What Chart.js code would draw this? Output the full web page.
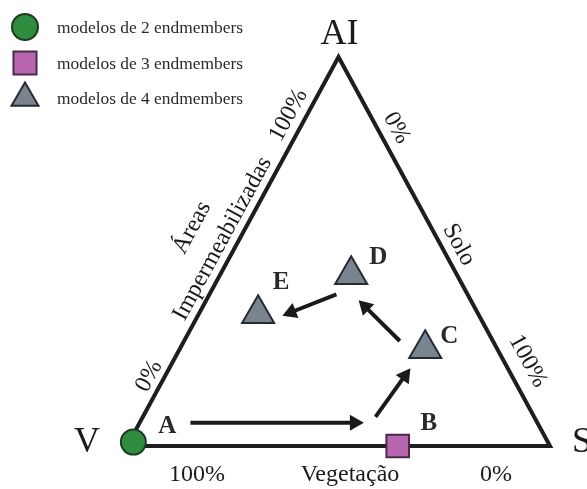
<!DOCTYPE html>
<html><head><meta charset="utf-8">
<script src="https://cdn.jsdelivr.net/npm/chart.js@4.4.0/dist/chart.umd.min.js"></script>
<style>html,body{margin:0;padding:0;background:#fff;overflow:hidden}canvas{display:block}</style>
</head><body>
<canvas id="c" width="587" height="489"></canvas>
<script>
// Ternary composition (fractions) of each model
const pointNames = ['A', 'B', 'C', 'D', 'E'];
const pointGroup = [2, 3, 4, 4, 4];           // number of endmembers
const vegetacao  = [0.98, 0.36, 0.17, 0.25, 0.52];
const solo       = [0.01, 0.64, 0.58, 0.31, 0.14];
const impermeab  = [0.01, 0.00, 0.25, 0.44, 0.34];

// arrows (from -> to), ternary fractions (solo, áreas impermeabilizadas)
const arrowFromSolo = [0.12, 0.55, 0.51, 0.30];
const arrowFromAI   = [0.06, 0.075, 0.27, 0.39];
const arrowToSolo   = [0.53, 0.57, 0.36, 0.20];
const arrowToAI     = [0.06, 0.20, 0.375, 0.335];

// triangle frame: V -> S -> AI -> V
const frameSolo = [0, 1, 0, 0];
const frameAI   = [0, 0, 1, 0];

const vertexLabels = ['V', 'S', 'AI'];
const legendLabels = ['modelos de 2 endmembers', 'modelos de 3 endmembers', 'modelos de 4 endmembers'];
const legendGroups = [2, 3, 4];
const axisTitleBottom = 'Vegetação';
const axisTitleRight = 'Solo';
const axisTitleLeft = ['Áreas', 'Impermeabilizadas'];
const tickLabels = ['0%', '100%'];

// ternary -> cartesian
const tx = (s, a) => s + a / 2;
const ty = (s, a) => a;

const groupStyle = {
  2: { pointStyle: 'circle',   radius: 12.5, bg: '#2f8b3d', border: '#1d3a22' },
  3: { pointStyle: 'rect',     radius: 16,   bg: '#b966b1', border: '#4b2a49' },
  4: { pointStyle: 'triangle', radius: 18.5, bg: '#7a8490', border: '#262b31' }
};

function groupData(g) {
  const out = [];
  pointNames.forEach((n, i) => {
    if (pointGroup[i] === g) out.push({ x: tx(solo[i], impermeab[i]), y: ty(solo[i], impermeab[i]), name: n });
  });
  return out;
}

const markerDatasets = legendGroups.map(g => ({
  type: 'scatter',
  label: legendLabels[legendGroups.indexOf(g)],
  data: groupData(g),
  pointStyle: groupStyle[g].pointStyle,
  pointRadius: groupStyle[g].radius,
  pointHoverRadius: groupStyle[g].radius,
  backgroundColor: groupStyle[g].bg,
  borderColor: groupStyle[g].border,
  pointBorderWidth: 2,
  clip: false,
  order: 0
}));

const frameDataset = {
  type: 'line',
  data: frameSolo.map((s, i) => ({ x: tx(s, frameAI[i]), y: ty(s, frameAI[i]) })),
  borderColor: '#1e1e1e',
  borderWidth: 4,
  borderJoinStyle: 'miter',
  borderCapStyle: 'square',
  pointRadius: 0,
  tension: 0,
  fill: false,
  clip: false,
  order: 5
};

const labelOffsets = { A: [34, -17], B: [31, -23], C: [24, -13], D: [27, -18], E: [23, -32] };
const SERIF = '"Liberation Serif", "DejaVu Serif", serif';

function drawMarker(ctx, g, x, y, r) {
  const st = groupStyle[g];
  ctx.save();
  ctx.fillStyle = st.bg; ctx.strokeStyle = st.border; ctx.lineWidth = 2;
  ctx.beginPath();
  if (st.pointStyle === 'circle') {
    ctx.arc(x, y, r, 0, Math.PI * 2);
  } else if (st.pointStyle === 'rect') {
    const h = r * Math.SQRT1_2;
    ctx.rect(x - h, y - h, 2 * h, 2 * h);
  } else {
    const t = 2 * Math.PI / 3;
    for (let k = 0; k < 3; k++) {
      const a = k * t;
      const px = x + Math.sin(a) * r, py = y - Math.cos(a) * r;
      k ? ctx.lineTo(px, py) : ctx.moveTo(px, py);
    }
    ctx.closePath();
  }
  ctx.fill(); ctx.stroke();
  ctx.restore();
}

function edgeText(ctx, p0, p1, t, perp, text, font) {
  const dx = p1.x - p0.x, dy = p1.y - p0.y;
  const len = Math.hypot(dx, dy);
  const ux = dx / len, uy = dy / len;
  const ang = Math.atan2(dy, dx);
  const nx = Math.sin(ang), ny = -Math.cos(ang);
  const cx = p0.x + ux * t * len + nx * perp;
  const cy = p0.y + uy * t * len + ny * perp;
  ctx.save();
  ctx.translate(cx, cy);
  ctx.rotate(ang);
  ctx.font = font;
  ctx.fillStyle = '#1a1a1a';
  ctx.textAlign = 'center';
  ctx.textBaseline = 'middle';
  ctx.fillText(text, 0, 0);
  ctx.restore();
}

const ternaryPlugin = {
  id: 'ternary',
  beforeDatasetsDraw(chart) {
    const { ctx, scales: { x, y } } = chart;
    ctx.save();
    ctx.strokeStyle = '#1a1a1a';
    ctx.fillStyle = '#1a1a1a';
    ctx.lineWidth = 4;
    for (let i = 0; i < arrowFromSolo.length; i++) {
      const x0 = x.getPixelForValue(tx(arrowFromSolo[i], arrowFromAI[i]));
      const y0 = y.getPixelForValue(ty(arrowFromSolo[i], arrowFromAI[i]));
      const x1 = x.getPixelForValue(tx(arrowToSolo[i], arrowToAI[i]));
      const y1 = y.getPixelForValue(ty(arrowToSolo[i], arrowToAI[i]));
      const L = Math.hypot(x1 - x0, y1 - y0);
      const ux = (x1 - x0) / L, uy = (y1 - y0) / L;
      const hl = 14, hw = 8;
      ctx.beginPath();
      ctx.moveTo(x0, y0);
      ctx.lineTo(x1 - ux * (hl - 2), y1 - uy * (hl - 2));
      ctx.stroke();
      ctx.beginPath();
      ctx.moveTo(x1, y1);
      ctx.lineTo(x1 - ux * hl - uy * hw, y1 - uy * hl + ux * hw);
      ctx.lineTo(x1 - ux * hl + uy * hw, y1 - uy * hl - ux * hw);
      ctx.closePath();
      ctx.fill();
    }
    ctx.restore();
  },
  afterDraw(chart) {
    const { ctx, scales: { x, y } } = chart;
    const V = { x: x.getPixelForValue(0), y: y.getPixelForValue(0) };
    const S = { x: x.getPixelForValue(1), y: y.getPixelForValue(0) };
    const A = { x: x.getPixelForValue(0.5), y: y.getPixelForValue(1) };

    // point labels
    ctx.save();
    ctx.font = 'bold 25px ' + SERIF;
    ctx.fillStyle = '#2a2a2a';
    ctx.textAlign = 'center';
    ctx.textBaseline = 'middle';
    pointNames.forEach((n, i) => {
      const px = x.getPixelForValue(tx(solo[i], impermeab[i]));
      const py = y.getPixelForValue(ty(solo[i], impermeab[i]));
      const o = labelOffsets[n];
      ctx.fillText(n, px + o[0], py + o[1] + 1);
    });
    ctx.restore();

    // vertex labels
    ctx.save();
    ctx.font = '36px ' + SERIF;
    ctx.fillStyle = '#1a1a1a';
    ctx.textBaseline = 'middle';
    ctx.textAlign = 'center';
    ctx.fillText(vertexLabels[0], V.x - 40, V.y - 3);
    ctx.textAlign = 'left';
    ctx.fillText(vertexLabels[1], S.x + 22, S.y - 3);
    ctx.textAlign = 'center';
    ctx.fillText(vertexLabels[2], A.x + 1, A.y - 22);
    ctx.restore();

    const f = '24px ' + SERIF;
    // bottom (Vegetação): 100% at V side, 0% at S side
    edgeText(ctx, V, S, 70 / 423, -29, tickLabels[1], f);
    edgeText(ctx, V, S, 223 / 423, -29, axisTitleBottom, f);
    edgeText(ctx, V, S, 369 / 423, -29, tickLabels[0], f);
    // left (Áreas Impermeabilizadas)
    edgeText(ctx, V, A, 72 / 443, 14, tickLabels[0], f);
    edgeText(ctx, V, A, 228 / 443, 15, axisTitleLeft[1], f);
    edgeText(ctx, V, A, 368 / 443, 16, tickLabels[1], f);
    edgeText(ctx, V, A, 223 / 443, 47, axisTitleLeft[0], f);
    // right (Solo): 0% near AI, 100% near S
    edgeText(ctx, A, S, 90 / 442, 17, tickLabels[0], f);
    edgeText(ctx, A, S, 222 / 442, 16, axisTitleRight, f);
    edgeText(ctx, A, S, 357 / 442, 21, tickLabels[1], f);

    // legend
    ctx.save();
    const rows = [27, 63, 98];
    const radii = [13, 16.3, 15.6];
    legendGroups.forEach((g, i) => {
      drawMarker(ctx, g, 25, rows[i], radii[i]);
    });
    ctx.font = '17.4px ' + SERIF;
    ctx.fillStyle = '#2a2a2a';
    ctx.textAlign = 'left';
    ctx.textBaseline = 'middle';
    legendLabels.forEach((t, i) => ctx.fillText(t, 57, rows[i] + 1));
    ctx.restore();
  }
};

new Chart(document.getElementById('c'), {
  type: 'scatter',
  data: { datasets: [...markerDatasets, frameDataset] },
  options: {
    responsive: false,
    animation: false,
    devicePixelRatio: 1,
    layout: { padding: { left: 127, right: 37, top: 57, bottom: 43 } },
    scales: {
      x: { type: 'linear', min: 0, max: 1, display: false },
      y: { type: 'linear', min: 0, max: 1, display: false }
    },
    plugins: { legend: { display: false }, tooltip: { enabled: false } }
  },
  plugins: [ternaryPlugin]
});
</script>
</body></html>
